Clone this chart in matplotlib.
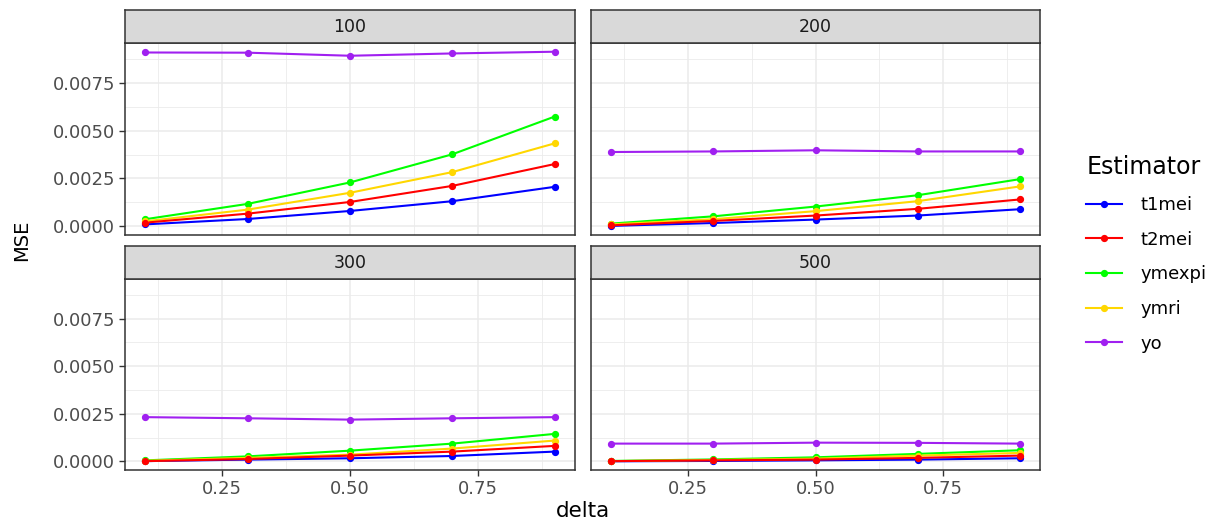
import numpy as np
import matplotlib
matplotlib.use('Agg')
import matplotlib.pyplot as plt
from matplotlib.lines import Line2D

plt.rcParams['font.family'] = ['DejaVu Sans']

delta = [0.1, 0.3, 0.5, 0.7, 0.9]
panels = ['100', '200', '300', '500']
estimators = ['t1mei', 't2mei', 'ymexpi', 'ymri', 'yo']
colors = {'t1mei': '#0000FF', 't2mei': '#FF0000', 'ymexpi': '#00FF00',
          'ymri': '#FFD700', 'yo': '#A020F0'}

mse = {
    '100': {
        't1mei':  [0.00010, 0.00038, 0.00080, 0.00131, 0.00206],
        't2mei':  [0.00019, 0.00066, 0.00127, 0.00211, 0.00325],
        'ymexpi': [0.00037, 0.00117, 0.00229, 0.00376, 0.00573],
        'ymri':   [0.00026, 0.00087, 0.00175, 0.00283, 0.00433],
        'yo':     [0.00908, 0.00907, 0.00891, 0.00903, 0.00912],
    },
    '200': {
        't1mei':  [0.00002, 0.00017, 0.00035, 0.00056, 0.00089],
        't2mei':  [0.00005, 0.00028, 0.00056, 0.00091, 0.00140],
        'ymexpi': [0.00014, 0.00052, 0.00103, 0.00162, 0.00246],
        'ymri':   [0.00010, 0.00037, 0.00079, 0.00131, 0.00208],
        'yo':     [0.00388, 0.00391, 0.00397, 0.00391, 0.00391],
    },
    '300': {
        't1mei':  [0.00001, 0.00009, 0.00016, 0.00028, 0.00051],
        't2mei':  [0.00001, 0.00012, 0.00030, 0.00051, 0.00081],
        'ymexpi': [0.00005, 0.00026, 0.00056, 0.00093, 0.00144],
        'ymri':   [0.00003, 0.00018, 0.00035, 0.00067, 0.00109],
        'yo':     [0.00232, 0.00226, 0.00219, 0.00226, 0.00232],
    },
    '500': {
        't1mei':  [0.00000, 0.00002, 0.00005, 0.00009, 0.00016],
        't2mei':  [0.00001, 0.00005, 0.00009, 0.00018, 0.00030],
        'ymexpi': [0.00002, 0.00010, 0.00021, 0.00039, 0.00058],
        'ymri':   [0.00001, 0.00007, 0.00014, 0.00030, 0.00044],
        'yo':     [0.00093, 0.00093, 0.00098, 0.00097, 0.00093],
    },
}

draw_order = ['t1mei', 'ymexpi', 'ymri', 't2mei', 'yo']

W, H = 1224, 525
fig = plt.figure(figsize=(W / 100, H / 100), dpi=100)

def box(x0, y0, x1, y1):
    # pixel box (top-left origin) -> figure fraction rect
    return [x0 / W, 1 - y1 / H, (x1 - x0) / W, (y1 - y0) / H]

# panel geometry in pixels: (left, right, strip_top, strip_bottom, plot_bottom)
geo = {
    '100': (125, 575, 10, 43, 235),
    '200': (591, 1040, 10, 43, 235),
    '300': (125, 575, 246, 279, 470),
    '500': (591, 1040, 246, 279, 470),
}

for p in panels:
    x0, x1, st, sb, pb = geo[p]
    ax = fig.add_axes(box(x0, sb, x1, pb))
    sax = fig.add_axes(box(x0, st, x1, sb))
    sax.set_facecolor('#D9D9D9')
    sax.set_xticks([])
    sax.set_yticks([])
    for s in sax.spines.values():
        s.set_color('#333333')
        s.set_linewidth(1.1)
    sax.text(0.5, 0.5, p, ha='center', va='center', fontsize=12.5, color='#1A1A1A',
             transform=sax.transAxes)

    ax.set_xlim(0.06, 0.94)
    ax.set_ylim(-0.000456, 0.009576)
    ax.set_xticks([0.25, 0.5, 0.75])
    ax.set_xticks([0.125, 0.375, 0.625, 0.875], minor=True)
    ax.set_yticks([0, 0.0025, 0.005, 0.0075])
    ax.set_yticks([0.00125, 0.00375, 0.00625, 0.00875], minor=True)
    ax.grid(which='major', color='#EBEBEB', lw=1.1)
    ax.grid(which='minor', color='#EBEBEB', lw=0.6)
    ax.set_axisbelow(True)
    for s in ax.spines.values():
        s.set_color('#333333')
        s.set_linewidth(1.1)
    ax.tick_params(which='minor', length=0)
    ax.tick_params(which='major', length=4, width=1, color='#333333',
                   labelsize=13, labelcolor='#4D4D4D', pad=3)
    if p in ('100', '200'):
        ax.tick_params(axis='x', which='major', length=0, labelbottom=False)
    else:
        ax.set_xticklabels(['0.25', '0.50', '0.75'])
    if p in ('200', '500'):
        ax.tick_params(axis='y', which='major', length=0, labelleft=False)
    else:
        ax.set_yticklabels(['0.0000', '0.0025', '0.0050', '0.0075'])

    for est in draw_order:
        ax.plot(delta, mse[p][est], color=colors[est], lw=1.5, zorder=2)
    for est in draw_order:
        ax.plot(delta, mse[p][est], 'o', color=colors[est], ms=4.2, zorder=3)

fig.text(22 / W, 1 - 240 / H, 'MSE', rotation=90, ha='center', va='center',
         fontsize=14, color='black')
fig.text(583 / W, 1 - 511 / H, 'delta', ha='center', va='center',
         fontsize=15.5, color='black')

handles = [Line2D([0], [0], color=colors[e], lw=1.5, marker='o', ms=4.2) for e in estimators]
leg = fig.legend(handles, estimators, title='Estimator', loc='center left',
                 bbox_to_anchor=(1070 / W, 1 - 254 / H), frameon=False,
                 fontsize=13, title_fontsize=17, handlelength=2.0,
                 labelspacing=0.92, handletextpad=1.0)
leg._legend_box.align = 'left'

fig.savefig('out.png', dpi=100)
